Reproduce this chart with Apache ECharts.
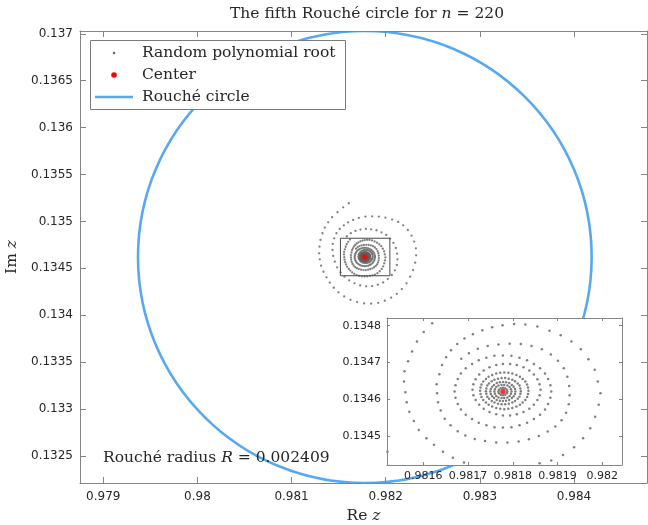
<!DOCTYPE html>
<html><head><meta charset="utf-8">
<script src="https://cdn.jsdelivr.net/npm/echarts@6/dist/echarts.min.js"></script>
<style>html,body{margin:0;padding:0;background:#fff}#c{width:648px;height:525px}</style>
</head><body><div id="c"></div>
<script>
// ---- data ----
const centerRe = 0.981778, centerIm = 0.134621;
const roucheRadius = 0.002409;
const mainXRange = [0.978753, 0.984775];
const mainYRange = [0.132212, 0.137030];
const insetXRange = [0.981519, 0.982044];
const insetYRange = [0.134421, 0.134821];
const mainXTicks = [0.979, 0.980, 0.981, 0.982, 0.983, 0.984];
const mainYTicks = [0.1325, 0.1330, 0.1335, 0.1340, 0.1345, 0.1350, 0.1355, 0.1360, 0.1365, 0.1370];
const insetXTicks = [0.9816, 0.9817, 0.9818, 0.9819, 0.9820];
const insetYTicks = [0.1345, 0.1346, 0.1347, 0.1348];
// root positions: offsets from the center, in units of 1e-6 (Re, Im)
const ringOuter1 = [[-170,573],[-230,530],[-290,477],[-347,424],[-389,370],[-425,313],[-450,253],[-471,182],[-481,110],[-485,39],[-478,-25],[-464,-93],[-439,-157],[-407,-217],[-372,-274],[-329,-328],[-280,-377],[-219,-420],[-152,-456],[-81,-481],[-7,-495],[67,-498],[142,-488],[212,-466],[280,-434],[340,-392],[393,-342],[443,-281],[481,-210],[513,-139],[535,-61],[545,18],[542,93],[524,164],[496,228],[457,288],[407,338],[354,374],[290,399],[219,420],[149,431],[78,434],[7,431],[-64,416],[-124,395],[-177,370]];
const ringOuter2 = [[-223,338],[-266,299],[-301,253],[-326,199],[-340,139],[-343,75],[-336,11],[-319,-50],[-294,-110],[-258,-164],[-216,-210],[-166,-249],[-110,-281],[-50,-303],[14,-313],[78,-310],[138,-295],[195,-271],[244,-235],[287,-192],[319,-142],[340,-85],[347,-25],[343,36],[329,96],[304,150],[269,196],[227,235],[177,263],[124,285],[67,295],[11,299],[-46,292],[-99,278],[-149,253],[-191,221]];
const ringA = [[218,-5],[212,27],[205,59],[191,88],[174,115],[153,136],[129,153],[104,165],[77,177],[50,182],[25,184],[-1,180],[-24,175],[-46,167],[-67,156],[-86,144],[-102,129],[-158,186],[-177,162],[-192,136],[-203,109],[-212,82],[-220,55],[-221,27],[-218,-2],[-215,-29],[-209,-55],[-199,-80],[-188,-105],[-171,-127],[-154,-145],[-134,-164],[-112,-180],[-87,-193],[-60,-201],[-32,-206],[-3,-208],[26,-206],[54,-201],[82,-195],[108,-188],[134,-173],[159,-152],[179,-127],[195,-100],[206,-69],[214,-36]];
const ringB = [[-116,112],[-127,93],[-136,72],[-142,47],[-148,20],[-147,-5],[-145,-29],[-139,-52],[-130,-74],[-117,-92],[-101,-108],[-84,-120],[-63,-129],[-40,-135],[-15,-139],[10,-139],[35,-136],[58,-130],[80,-121],[100,-109],[117,-95],[131,-78],[141,-58],[147,-35],[149,-10],[148,15],[144,40],[136,63],[123,84],[107,101],[87,115],[64,124],[40,129],[15,130],[-10,128],[-34,124],[-56,116],[-76,104],[-93,89]];
const ringC = [[108,0],[106,17],[101,34],[94,49],[83,63],[69,75],[54,85],[37,92],[19,97],[0,98],[-19,97],[-37,92],[-54,85],[-69,75],[-83,63],[-94,49],[-101,34],[-106,17],[-108,0],[-106,-17],[-101,-34],[-94,-49],[-83,-63],[-69,-75],[-54,-85],[-37,-92],[-19,-97],[0,-98],[19,-97],[37,-92],[54,-85],[69,-75],[83,-63],[94,-49],[101,-34],[106,-17]];
const ringD = [[84,5],[82,20],[77,33],[69,46],[59,57],[46,66],[31,72],[16,75],[0,75],[-15,72],[-30,66],[-43,57],[-53,46],[-61,33],[-66,20],[-68,5],[-66,-10],[-61,-23],[-53,-36],[-43,-47],[-30,-56],[-15,-62],[0,-65],[16,-65],[31,-62],[46,-56],[59,-47],[69,-36],[77,-23],[82,-10]];
const ringE = [[57,2],[56,11],[54,19],[50,27],[44,34],[38,40],[30,45],[21,49],[12,51],[3,52],[-6,51],[-15,49],[-24,45],[-32,40],[-38,34],[-44,27],[-48,19],[-50,11],[-51,2],[-50,-7],[-48,-15],[-44,-23],[-38,-30],[-32,-36],[-24,-41],[-15,-45],[-6,-47],[3,-48],[12,-47],[21,-45],[30,-41],[38,-36],[44,-30],[50,-23],[54,-15],[56,-7]];
const ringF = [[40,1],[39,8],[37,16],[33,22],[27,28],[21,32],[13,35],[5,37],[-3,37],[-11,35],[-19,32],[-25,28],[-31,22],[-35,16],[-37,8],[-38,1],[-37,-6],[-35,-14],[-31,-20],[-25,-26],[-19,-30],[-11,-33],[-3,-35],[5,-35],[13,-33],[21,-30],[27,-26],[33,-20],[37,-14],[39,-6]];
const ringG = [[28,0],[27,7],[24,13],[20,18],[14,23],[7,25],[0,26],[-7,25],[-14,23],[-20,18],[-24,13],[-27,7],[-28,0],[-27,-7],[-24,-13],[-20,-18],[-14,-23],[-7,-25],[0,-26],[7,-25],[14,-23],[20,-18],[24,-13],[27,-7]];
const ringH = [[19,0],[18,6],[15,12],[10,16],[3,18],[-3,18],[-10,16],[-15,12],[-18,6],[-19,0],[-18,-6],[-15,-12],[-10,-16],[-3,-18],[3,-18],[10,-16],[15,-12],[18,-6]];
const ringI = [[10,0],[9,5],[5,9],[0,10],[-5,9],[-9,5],[-10,0],[-9,-5],[-5,-9],[0,-10],[5,-9],[9,-5]];

const rootOffsets = [].concat(ringOuter1, ringOuter2, ringA, ringB, ringC, ringD, ringE, ringF, ringG, ringH, ringI);
const roots = rootOffsets.map(p => [centerRe + p[0] * 1e-6, centerIm + p[1] * 1e-6]);

// ---- styles ----
const SERIF = 'DejaVu Serif';
const SANS = 'DejaVu Sans';
const BLUE = '#56A9F1';
const GRAY_DOT = '#5f5f5f';
const AX = '#858585';
const TXT = '#262626';
const fmt = v => String(+(+v).toFixed(6));

function axisPair(kind, grid, range, ticks, opts) {
  const main = {
    type: 'value', gridIndex: grid, min: range[0], max: range[1],
    position: kind === 'x' ? 'bottom' : 'left', z: opts.z,
    axisLine: { show: true, onZero: false, lineStyle: { color: AX, width: 1 } },
    axisTick: { show: true, inside: true, length: opts.tick, customValues: ticks, lineStyle: { color: AX } },
    axisLabel: { show: true, customValues: ticks, formatter: fmt, margin: opts.margin,
      fontFamily: SANS, fontSize: opts.fs, color: TXT },
    splitLine: { show: false }
  };
  const mirror = {
    type: 'value', gridIndex: grid, min: range[0], max: range[1],
    position: kind === 'x' ? 'top' : 'right', z: opts.z,
    axisLine: { show: true, onZero: false, lineStyle: { color: AX, width: 1 } },
    axisTick: { show: true, inside: true, length: opts.tick, customValues: ticks, lineStyle: { color: AX } },
    axisLabel: { show: false }, splitLine: { show: false }
  };
  return [Object.assign(main, opts.extra || {}), mirror];
}

const xMain = axisPair('x', 0, mainXRange, mainXTicks, { tick: 6, margin: 8, fs: 12, z: 5,
  extra: { name: 'Re {i|z}', nameLocation: 'middle', nameGap: 21,
    nameTextStyle: { fontFamily: SERIF, fontSize: 15.5, color: TXT,
      rich: { i: { fontFamily: SERIF, fontSize: 15.5, fontStyle: 'italic', color: TXT } } } } });
const yMain = axisPair('y', 0, mainYRange, mainYTicks, { tick: 6, margin: 7, fs: 12, z: 5,
  extra: { name: 'Im {i|z}', nameLocation: 'middle', nameGap: 56, nameRotate: 90,
    nameTextStyle: { fontFamily: SERIF, fontSize: 15.5, color: TXT,
      rich: { i: { fontFamily: SERIF, fontSize: 15.5, fontStyle: 'italic', color: TXT } } } } });
const xInset = axisPair('x', 1, insetXRange, insetXTicks, { tick: 3, margin: 6, fs: 11, z: 20 });
const yInset = axisPair('y', 1, insetYRange, insetYTicks, { tick: 3, margin: 6, fs: 11, z: 20 });

const chart = echarts.init(document.getElementById('c'), null, { renderer: 'canvas' });
chart.setOption({
  animation: false,
  backgroundColor: '#fff',
  grid: [
    { left: 80, top: 31, width: 567, height: 452, containLabel: false, outerBoundsMode: 'none', show: false },
    { left: 387, top: 318, width: 235, height: 147, containLabel: false, outerBoundsMode: 'none', show: false }
  ],
  xAxis: [xMain[0], xMain[1], xInset[0], xInset[1]],
  yAxis: [yMain[0], yMain[1], yInset[0], yInset[1]],
  series: [
    { type: 'custom', name: 'Rouché circle', xAxisIndex: 0, yAxisIndex: 0, z: 2, clip: true, silent: true,
      data: [[centerRe, centerIm, roucheRadius]],
      renderItem: (params, api) => {
        const c = api.coord([api.value(0), api.value(1)]);
        const s = api.size([api.value(2), api.value(2)]);
        return { type: 'ellipse', shape: { cx: c[0], cy: c[1], rx: s[0], ry: s[1] },
          style: { fill: 'none', stroke: BLUE, lineWidth: 2.6 } };
      } },
    { type: 'scatter', name: 'Random polynomial root', xAxisIndex: 0, yAxisIndex: 0, z: 3, silent: true,
      data: roots, symbol: 'circle', symbolSize: 2.3, itemStyle: { color: GRAY_DOT } },
    { type: 'custom', name: 'zoom box', xAxisIndex: 0, yAxisIndex: 0, z: 4, silent: true,
      data: [[insetXRange[0], insetYRange[0], insetXRange[1], insetYRange[1]]],
      renderItem: (params, api) => {
        const p0 = api.coord([api.value(0), api.value(1)]);
        const p1 = api.coord([api.value(2), api.value(3)]);
        return { type: 'rect', shape: { x: Math.min(p0[0], p1[0]), y: Math.min(p0[1], p1[1]),
          width: Math.abs(p1[0] - p0[0]), height: Math.abs(p1[1] - p0[1]) },
          style: { fill: 'none', stroke: '#4a4a4a', lineWidth: 1 } };
      } },
    { type: 'scatter', name: 'Center', xAxisIndex: 0, yAxisIndex: 0, z: 5, silent: true,
      data: [[centerRe, centerIm]], symbolSize: 5.5, itemStyle: { color: '#ff0000' } },
    // inset
    { type: 'custom', name: 'inset bg', xAxisIndex: 2, yAxisIndex: 2, z: 10, silent: true,
      data: [[insetXRange[0], insetYRange[0]]],
      renderItem: (params) => ({ type: 'rect', shape: { x: params.coordSys.x, y: params.coordSys.y,
        width: params.coordSys.width, height: params.coordSys.height }, style: { fill: '#fff' } }) },
    { type: 'scatter', name: 'inset roots', xAxisIndex: 2, yAxisIndex: 2, z: 11, clip: true, silent: true,
      data: roots, symbolSize: 2.5, itemStyle: { color: GRAY_DOT } },
    { type: 'scatter', name: 'inset center', xAxisIndex: 2, yAxisIndex: 2, z: 12, clip: true, silent: true,
      data: [[centerRe, centerIm]], symbolSize: 5.5, itemStyle: { color: '#ff0000' } }
  ],
  graphic: [
    { type: 'text', z: 100, x: 367, y: 14, style: {
      text: 'The fifth Rouché circle for {i|n} = 220', font: '15.5px "' + SERIF + '"', fill: TXT,
      align: 'center', verticalAlign: 'middle',
      rich: { i: { fontStyle: 'italic', fontFamily: SERIF, fontSize: 15.5, fill: TXT } } } },
    { type: 'rect', z: 100, shape: { x: 90.5, y: 40.5, width: 255, height: 69 },
      style: { fill: '#fff', stroke: '#7a7a7a', lineWidth: 1 } },
    { type: 'circle', z: 101, shape: { cx: 114, cy: 53, r: 1.2 }, style: { fill: GRAY_DOT } },
    { type: 'circle', z: 101, shape: { cx: 114, cy: 75, r: 2.8 }, style: { fill: '#ff0000' } },
    { type: 'line', z: 101, shape: { x1: 95, y1: 97, x2: 133, y2: 97 }, style: { stroke: BLUE, lineWidth: 2.6 } },
    { type: 'text', z: 101, x: 142, y: 53, style: { text: 'Random polynomial root', font: '15.5px "' + SERIF + '"', fill: TXT, verticalAlign: 'middle' } },
    { type: 'text', z: 101, x: 142, y: 75, style: { text: 'Center', font: '15.5px "' + SERIF + '"', fill: TXT, verticalAlign: 'middle' } },
    { type: 'text', z: 101, x: 142, y: 97, style: { text: 'Rouché circle', font: '15.5px "' + SERIF + '"', fill: TXT, verticalAlign: 'middle' } },
    { type: 'text', z: 100, x: 103, y: 458, style: {
      text: 'Rouché radius {i|R} = 0.002409', font: '15.5px "' + SERIF + '"', fill: TXT, verticalAlign: 'middle',
      rich: { i: { fontStyle: 'italic', fontFamily: SERIF, fontSize: 15.5, fill: TXT } } } }
  ]
});
</script>
</body></html>
